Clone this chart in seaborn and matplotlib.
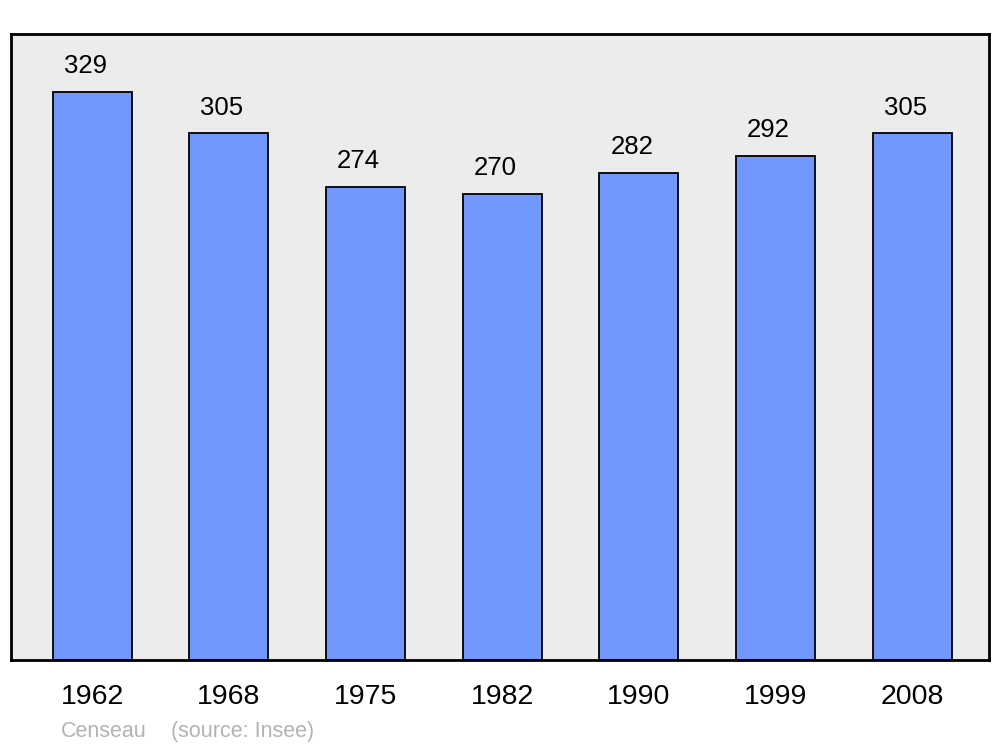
import matplotlib
matplotlib.use("Agg")
import matplotlib.pyplot as plt
import seaborn as sns
import pandas as pd

years = ["1962", "1968", "1975", "1982", "1990", "1999", "2008"]
population = [329, 305, 274, 270, 282, 292, 305]
commune = "Censeau"
source = "(source: Insee)"

sns.set_style("white")
plt.rcParams["font.family"] = ["Liberation Sans", "DejaVu Sans"]
plt.rcParams["text.color"] = "black"
plt.rcParams["xtick.color"] = "black"

df = pd.DataFrame({"year": years, "pop": population})

fig = plt.figure(figsize=(10, 7.47), dpi=100)
ax = fig.add_axes([0.011, 0.1165, 0.978, 0.838])
ax.set_facecolor("#ececec")

sns.barplot(data=df, x="year", y="pop", order=years, color="#7298ff",
            saturation=1, width=0.578, edgecolor="black", linewidth=1.3, ax=ax)

for i, v in enumerate(population):
    ax.annotate(str(v), (i, v), xytext=(-5, 10), textcoords="offset points",
                ha="center", va="bottom", fontsize=18.5, color="black")

ax.set_xlim(-0.593, 6.563)
ax.set_ylim(0, 362.6)
ax.set_yticks([])
ax.set_xlabel("")
ax.set_ylabel("")
ax.tick_params(axis="x", length=0, labelsize=20.5, pad=17, labelcolor="black")
for lbl in ax.get_xticklabels():
    lbl.set_x(lbl.get_position()[0])
for s in ax.spines.values():
    s.set_visible(True)
    s.set_color("black")
    s.set_linewidth(2)

fig.text(0.061, 0.013, commune, color="#b3b3b3", fontsize=15.5)
fig.text(0.171, 0.013, source, color="#b3b3b3", fontsize=15.5)

fig.savefig("out.png", dpi=100)
